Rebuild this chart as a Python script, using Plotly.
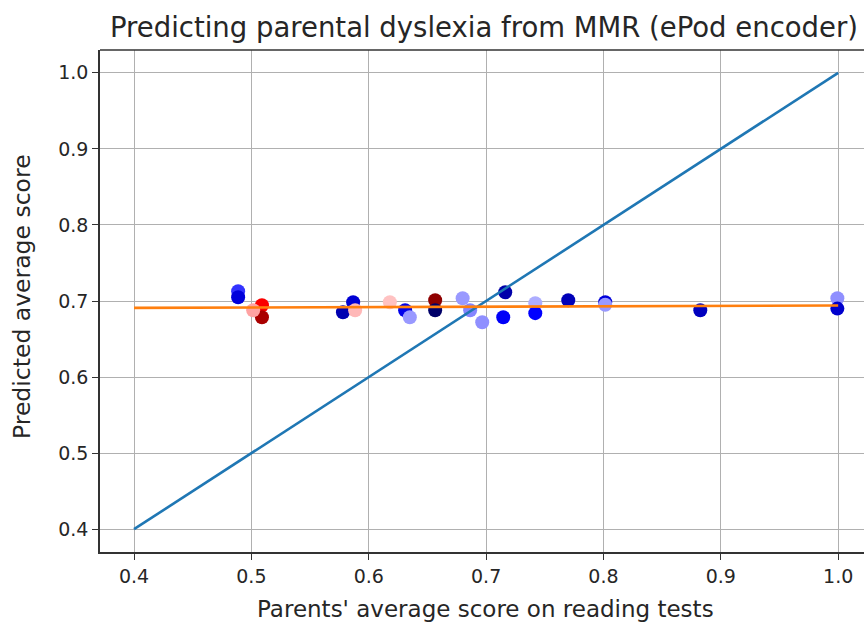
import plotly.graph_objects as go

# Data
parent_scores = [0.4887, 0.4887, 0.509, 0.509, 0.5015, 0.578, 0.5867, 0.5884, 0.618,
                 0.631, 0.635, 0.6566, 0.6566, 0.680, 0.6864, 0.6967, 0.7163, 0.7146,
                 0.7419, 0.7419, 0.770, 0.8015, 0.8015, 0.8825, 0.9993, 0.9993]
predicted = [0.7128, 0.705, 0.6944, 0.6786, 0.6878, 0.6852, 0.6983, 0.6878, 0.6983,
             0.6878, 0.6786, 0.701, 0.6878, 0.7036, 0.6878, 0.672, 0.7115, 0.6786,
             0.697, 0.684, 0.701, 0.6983, 0.695, 0.6878, 0.7036, 0.690]
color_value = [0.30, 0.20, 0.76, 0.92, 0.59, 0.14, 0.19, 0.57, 0.56,
               0.22, 0.40, 0.97, 0.04, 0.40, 0.38, 0.39, 0.13, 0.24,
               0.42, 0.25, 0.15, 0.20, 0.40, 0.16, 0.39, 0.18]

identity_x = [0.4, 1.0]
identity_y = [0.4, 1.0]
fit_x = [0.4, 1.0]
fit_y = [0.691, 0.694]

x_ticks = [0.4, 0.5, 0.6, 0.7, 0.8, 0.9, 1.0]
y_ticks = [0.4, 0.5, 0.6, 0.7, 0.8, 0.9, 1.0]

seismic = [[0.0, "rgb(0,0,77)"], [0.25, "rgb(0,0,255)"], [0.5, "rgb(255,255,255)"],
           [0.75, "rgb(255,0,0)"], [1.0, "rgb(128,0,0)"]]

FONT = "DejaVu Sans, sans-serif"

fig = go.Figure()
fig.add_trace(go.Scatter(
    x=parent_scores, y=predicted, mode="markers",
    marker=dict(size=14, color=color_value, colorscale=seismic, cmin=0, cmax=1,
                line=dict(width=0)),
    showlegend=False))
fig.add_trace(go.Scatter(x=identity_x, y=identity_y, mode="lines",
                         line=dict(color="#1f77b4", width=2.6), showlegend=False))
fig.add_trace(go.Scatter(x=fit_x, y=fit_y, mode="lines",
                         line=dict(color="#ff7f0e", width=2.6), showlegend=False))

axis_common = dict(showgrid=True, gridcolor="#b0b0b0", gridwidth=1.4,
                   showline=True, linecolor="#333333", linewidth=1.6,
                   ticks="outside", ticklen=6, tickwidth=1.4, tickcolor="#333333",
                   zeroline=False, tickfont=dict(family=FONT, size=19, color="#262626"))

fig.update_layout(
    width=864, height=625,
    margin=dict(l=100, r=0, t=50, b=73),
    plot_bgcolor="white", paper_bgcolor="white",
    xaxis=dict(range=[0.371, 1.022], tickvals=x_ticks,
               ticktext=[f"{v:.1f}" for v in x_ticks], **axis_common),
    yaxis=dict(range=[0.37, 1.03], tickvals=y_ticks,
               ticktext=[f"{v:.1f}" for v in y_ticks], **axis_common),
    shapes=[dict(type="line", xref="paper", yref="paper", x0=0, x1=1, y0=1, y1=1,
                 line=dict(color="#333333", width=1.6))],
    annotations=[
        dict(text="Predicting parental dyslexia from MMR (ePod encoder)",
             xref="paper", yref="paper", x=(484 - 100) / 764, y=1 + 23 / 502,
             xanchor="center", yanchor="middle", showarrow=False,
             font=dict(family=FONT, size=27.5, color="#262626")),
        dict(text="Parents' average score on reading tests",
             xref="paper", yref="paper", x=(486 - 100) / 764, y=-57 / 502,
             xanchor="center", yanchor="middle", showarrow=False,
             font=dict(family=FONT, size=23, color="#262626")),
        dict(text="Predicted average score", textangle=-90,
             xref="paper", yref="paper", x=-78 / 764, y=(552 - 297) / 502,
             xanchor="center", yanchor="middle", showarrow=False,
             font=dict(family=FONT, size=23.5, color="#262626")),
    ],
)

fig.write_html("out.html")
